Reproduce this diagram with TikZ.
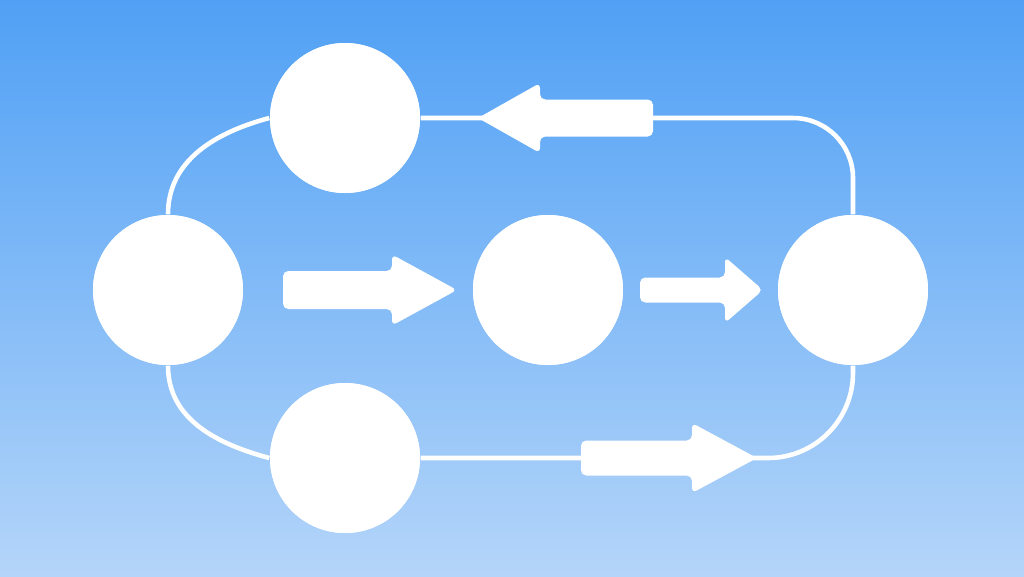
\documentclass[tikz,border=0pt]{standalone}
\usetikzlibrary{positioning}
\definecolor{skytop}{HTML}{50A0F5}
\definecolor{skybot}{HTML}{B4D5F9}
\tikzset{
  ball/.style={circle, fill=white, draw=none, inner sep=0pt, minimum size=1.5cm},
  link/.style={white, line width=1.3pt},
  blockfill/.style={fill=white, rounded corners=1.5pt}
}
\begin{document}
\begin{tikzpicture}
  % background
  \shade[top color=skytop, bottom color=skybot] (0,0) rectangle (10.24,5.76);
  \useasboundingbox (0,0) rectangle (10.24,5.76);

  % nodes
  \node[ball] (left) at (1.68,2.86) {};
  \node[ball] (top) at (3.45,4.58) {};
  \node[ball] (bottom) at (3.45,1.18) {};
  \node[ball] (mid) at (5.48,2.86) {};
  \node[ball] (right) at (8.53,2.86) {};

  % connectors
  \draw[link] (left.north) to[out=90,in=195] (top.west);
  \draw[link] (left.south) to[out=-90,in=165] (bottom.west);
  \draw[link, rounded corners=0.6cm] (top.east) -| (right.north);
  \draw[link, rounded corners=0.85cm] (bottom.east) -| (right.south);

  % block arrows
  \fill[blockfill] (6.53,4.395) -- (5.40,4.395) -- (5.40,4.23) -- (4.78,4.58)
    -- (5.40,4.93) -- (5.40,4.765) -- (6.53,4.765) -- cycle;
  \fill[blockfill] (2.83,2.67) -- (3.92,2.67) -- (3.92,2.505) -- (4.57,2.86)
    -- (3.92,3.215) -- (3.92,3.05) -- (2.83,3.05) -- cycle;
  \fill[blockfill] (6.40,2.735) -- (7.25,2.735) -- (7.25,2.53) -- (7.63,2.86)
    -- (7.25,3.19) -- (7.25,2.985) -- (6.40,2.985) -- cycle;
  \fill[blockfill] (5.81,1.005) -- (6.92,1.005) -- (6.92,0.83) -- (7.57,1.18)
    -- (6.92,1.53) -- (6.92,1.355) -- (5.81,1.355) -- cycle;

  % circles on top
  \foreach \n in {left,top,bottom,mid,right}
    \fill[white] (\n) circle (0.75);
\end{tikzpicture}
\end{document}
